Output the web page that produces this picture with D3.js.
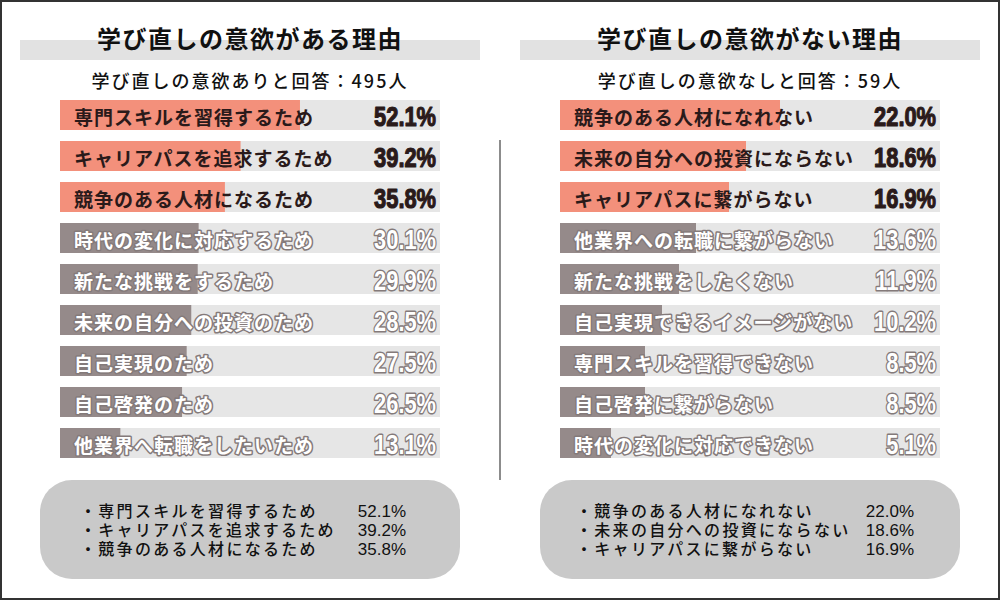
<!DOCTYPE html>
<html>
<head>
<meta charset="utf-8">
<script src="https://cdn.jsdelivr.net/npm/d3@7"></script>
<style>
	body { margin: 0; background: #fff; }
	svg { display: block; }
</style>
</head>
<body>
<div id="chart"></div>
<script>
// left panel: reasons for wanting to re-learn
let leftTitle = "学び直しの意欲がある理由",
	leftSubtitle = "学び直しの意欲ありと回答：",
	leftCount = 495;
let leftCategories = [
	"専門スキルを習得するため",
	"キャリアパスを追求するため",
	"競争のある人材になるため",
	"時代の変化に対応するため",
	"新たな挑戦をするため",
	"未来の自分への投資のため",
	"自己実現のため",
	"自己啓発のため",
	"他業界へ転職をしたいため"
];
let leftValues = [52.1, 39.2, 35.8, 30.1, 29.9, 28.5, 27.5, 26.5, 13.1];

// right panel: reasons for not wanting to
let rightTitle = "学び直しの意欲がない理由",
	rightSubtitle = "学び直しの意欲なしと回答：",
	rightCount = 59;
let rightCategories = [
	"競争のある人材になれない",
	"未来の自分への投資にならない",
	"キャリアパスに繋がらない",
	"他業界への転職に繋がらない",
	"新たな挑戦をしたくない",
	"自己実現できるイメージがない",
	"専門スキルを習得できない",
	"自己啓発に繋がらない",
	"時代の変化に対応できない"
];
let rightValues = [22.0, 18.6, 16.9, 13.6, 11.9, 10.2, 8.5, 8.5, 5.1];

let topN = 3;

let width = 1000,
	height = 600;

let colors = {
	hot: "#f3907b",
	rest: "#958a8a",
	track: "#e6e6e6",
	band: "#e2e2e2",
	box: "#c9c9c9",
	dark: "#2a1a1a",
	outline: "#847a7a"
};

let jpFont = "'Noto Sans CJK JP', 'Noto Sans', sans-serif";
// latin-first stack for the summary box, kana/kanji fall back to Noto CJK
let boxFont = "'Liberation Sans', 'Noto Sans CJK JP', sans-serif";
let numFont = "'Liberation Sans', Arial, sans-serif";

let svg = d3.select("#chart")
	.append("svg")
	.attr("width", width)
	.attr("height", height);

// outer frame
svg.append("rect")
	.attr("x", 1)
	.attr("y", 1)
	.attr("width", width - 2)
	.attr("height", height - 2)
	.attr("fill", "#fff")
	.attr("stroke", "#333")
	.attr("stroke-width", 2);

// divider between the two panels
svg.append("line")
	.attr("x1", 500).attr("x2", 500)
	.attr("y1", 140).attr("y2", 480)
	.attr("stroke", "#8c8c8c")
	.attr("stroke-width", 2);

function drawPanel(opts) {
	let g = svg.append("g");
	let x0 = opts.left;

	// title band + title
	g.append("rect")
		.attr("x", x0 - 40)
		.attr("y", 40)
		.attr("width", 460)
		.attr("height", 20)
		.attr("fill", colors.band);

	g.append("text")
		.attr("x", x0 + 190)
		.attr("y", 37)
		.attr("text-anchor", "middle")
		.attr("dominant-baseline", "central")
		.attr("font-family", jpFont)
		.attr("font-size", 24)
		.attr("font-weight", 700)
		.attr("letter-spacing", 1.5)
		.attr("fill", "#111")
		.text(opts.title);

	g.append("text")
		.attr("x", x0 + 190)
		.attr("y", 80)
		.attr("text-anchor", "middle")
		.attr("dominant-baseline", "central")
		.attr("font-family", jpFont)
		.attr("font-size", 18)
		.attr("font-weight", 500)
		.attr("letter-spacing", 2)
		.attr("fill", "#111")
		.text(opts.subtitle + opts.count + "人");

	let xScale = d3.scaleLinear()
		.domain([0, opts.max])
		.range([x0, x0 + 380]);

	let yScale = d3.scaleBand()
		.domain(opts.categories)
		.range([100, 458])
		.paddingInner(11 / 41)
		.paddingOuter(0);

	let rows = g.selectAll("g.row")
		.data(opts.categories.map(function (c, i) {
			return {name: c, value: opts.values[i], hot: i < topN};
		}))
		.enter()
		.append("g")
		.attr("class", "row")
		.attr("transform", function (d) {
			return "translate(0," + yScale(d.name) + ")";
		});

	// track
	rows.append("rect")
		.attr("x", xScale(0))
		.attr("width", xScale(opts.max) - xScale(0))
		.attr("height", yScale.bandwidth())
		.attr("fill", colors.track);

	// value bar
	rows.append("rect")
		.attr("x", xScale(0))
		.attr("width", function (d) { return xScale(d.value) - xScale(0); })
		.attr("height", yScale.bandwidth())
		.attr("fill", function (d) { return d.hot ? colors.hot : colors.rest; });

	// category label
	rows.append("text")
		.attr("x", xScale(0) + 14)
		.attr("y", yScale.bandwidth() / 2 + 1)
		.attr("dominant-baseline", "central")
		.attr("font-family", jpFont)
		.attr("font-size", 19)
		.attr("font-weight", 700)
		.attr("letter-spacing", 1)
		.attr("paint-order", "stroke")
		.attr("stroke", function (d) { return d.hot ? "none" : colors.outline; })
		.attr("stroke-width", 3)
		.attr("stroke-linejoin", "round")
		.attr("fill", function (d) { return d.hot ? colors.dark : "#fff"; })
		.text(function (d) { return d.name; });

	// percentage, squeezed horizontally to look like a condensed face
	rows.append("text")
		.attr("transform", "translate(" + (xScale(opts.max) - 4) + "," + (yScale.bandwidth() / 2 + 11) + ") scale(0.78,1)")
		.attr("text-anchor", "end")
		.attr("font-family", numFont)
		.attr("font-size", 28)
		.attr("font-weight", 700)
		.attr("paint-order", "stroke")
		.attr("stroke", function (d) { return d.hot ? colors.dark : colors.outline; })
		.attr("stroke-width", function (d) { return d.hot ? 1.2 : 3; })
		.attr("stroke-linejoin", "round")
		.attr("fill", function (d) { return d.hot ? colors.dark : "#fff"; })
		.text(function (d) { return d.value.toFixed(1) + "%"; });

	// summary box with the top items
	g.append("rect")
		.attr("x", x0 - 20)
		.attr("y", 480)
		.attr("width", 420)
		.attr("height", 99)
		.attr("rx", 32)
		.attr("fill", colors.box);

	let top = g.selectAll("g.top")
		.data(opts.categories.slice(0, topN).map(function (c, i) {
			return {name: c, value: opts.values[i]};
		}))
		.enter()
		.append("g")
		.attr("class", "top")
		.attr("transform", function (d, i) {
			return "translate(0," + (511 + i * 19) + ")";
		});

	top.append("text")
		.attr("x", x0 + opts.boxTextX)
		.attr("dominant-baseline", "central")
		.attr("font-family", boxFont)
		.attr("font-size", 16)
		.attr("font-weight", 500)
		.attr("letter-spacing", 2.3)
		.attr("fill", "#111")
		.text(function (d) { return "・" + d.name; });

	top.append("text")
		.attr("x", x0 + opts.boxValueX)
		.attr("text-anchor", "end")
		.attr("dominant-baseline", "central")
		.attr("font-family", boxFont)
		.attr("font-size", 17)
		.attr("fill", "#111")
		.text(function (d) { return d.value.toFixed(1) + "%"; });
}

drawPanel({
	left: 60,
	title: leftTitle,
	subtitle: leftSubtitle,
	count: leftCount,
	categories: leftCategories,
	values: leftValues,
	max: 82.5,
	boxTextX: 20,
	boxValueX: 346
});

drawPanel({
	left: 560,
	title: rightTitle,
	subtitle: rightSubtitle,
	count: rightCount,
	categories: rightCategories,
	values: rightValues,
	max: 38,
	boxTextX: 16,
	boxValueX: 354
});
</script>
</body>
</html>
